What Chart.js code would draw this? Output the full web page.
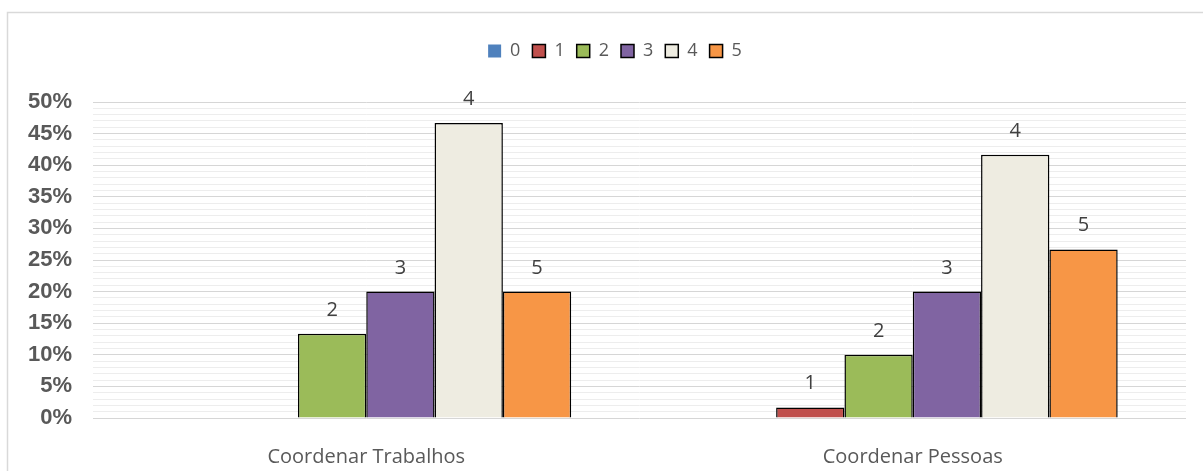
<!DOCTYPE html>
<html lang="pt">
<head>
    <meta charset="UTF-8">
    <script src="https://cdn.jsdelivr.net/npm/chart.js@4.4.1/dist/chart.umd.min.js"></script>
    <title>Coordenar Trabalhos / Pessoas</title>
    <style>
        html, body { margin: 0; padding: 0; background: #fff; }
        #chart-container { width: 1203px; height: 471px; }
    </style>
</head>
<body>
    <div id="chart-container">
        <canvas id="grafico"></canvas>
    </div>

    <script>
        // categorias e séries (percentual de respostas)
        const categorias = ['Coordenar Trabalhos', 'Coordenar Pessoas'];
        const nomesSeries = ['0', '1', '2', '3', '4', '5'];
        const nota0 = [0, 0];
        const nota1 = [0, 1.67];
        const nota2 = [13.33, 10];
        const nota3 = [20, 20];
        const nota4 = [46.67, 41.67];
        const nota5 = [20, 26.67];
        const ticksY = [0, 5, 10, 15, 20, 25, 30, 35, 40, 45, 50];

        const cores = ['#4F81BD', '#C0504D', '#9BBB59', '#8064A2', '#EEECE1', '#F79646'];
        const valores = [nota0, nota1, nota2, nota3, nota4, nota5];

        const datasets = nomesSeries.map((nome, i) => ({
            label: nome,
            data: valores[i],
            backgroundColor: cores[i],
            borderColor: '#000000',
            borderWidth: i === 0 ? 0 : 1.5,
            categoryPercentage: 0.75,
            barPercentage: 1
        }));

        // espaço entre a legenda e a área do gráfico, legenda um pouco à direita
        const ajusteLegenda = {
            id: 'ajusteLegenda',
            beforeInit(chart) {
                const fitOriginal = chart.legend.fit;
                chart.legend.fit = function () {
                    fitOriginal.bind(chart.legend)();
                    this.height += 32;
                };
            },
            afterLayout(chart) {
                chart.legend.left += 17;
                chart.legend.right += 17;
            }
        };

        // moldura cinza em volta do gráfico
        const moldura = {
            id: 'moldura',
            beforeDraw(chart) {
                const ctx = chart.ctx;
                ctx.save();
                ctx.strokeStyle = '#d9d9d9';
                ctx.lineWidth = 1.5;
                ctx.strokeRect(7.5, 12.5, 1210, 480);
                ctx.restore();
            }
        };

        // rótulos com o nome da série acima de cada barra
        const rotulos = {
            id: 'rotulos',
            afterDatasetsDraw(chart) {
                const ctx = chart.ctx;
                ctx.save();
                ctx.font = '20px "Open Sans"';
                ctx.fillStyle = '#404040';
                ctx.textAlign = 'center';
                ctx.textBaseline = 'alphabetic';
                chart.data.datasets.forEach((ds, i) => {
                    const meta = chart.getDatasetMeta(i);
                    meta.data.forEach((bar, j) => {
                        if (!ds.data[j]) return;
                        ctx.fillText(ds.label, bar.x, bar.y - 18);
                    });
                });
                ctx.restore();
            }
        };

        new Chart(document.getElementById('grafico'), {
            type: 'bar',
            data: {
                labels: categorias,
                datasets: datasets
            },
            options: {
                responsive: true,
                maintainAspectRatio: false,
                animation: false,
                layout: {
                    padding: { top: 30, left: 10, right: 17, bottom: 0 }
                },
                scales: {
                    x: {
                        grid: { display: false },
                        border: { display: false },
                        ticks: {
                            color: '#595959',
                            font: { family: '"Open Sans"', size: 20 },
                            padding: 19
                        },
                        afterFit(scale) { scale.height = 53; }
                    },
                    y: {
                        min: 0,
                        max: 50,
                        border: { display: false },
                        grid: {
                            drawTicks: false,
                            color: ctx => ticksY.includes(ctx.tick.value) ? '#d6d6d6' : '#ededed',
                            lineWidth: 1
                        },
                        ticks: {
                            stepSize: 1,
                            autoSkip: false,
                            padding: 21,
                            color: '#595959',
                            font: { family: '"Liberation Sans"', size: 22, weight: 'bold' },
                            callback: value => ticksY.includes(value) ? value + '%' : ''
                        },
                        afterFit(scale) { scale.width = 83; }
                    }
                },
                plugins: {
                    legend: {
                        position: 'top',
                        labels: {
                            boxWidth: 13,
                            boxHeight: 13,
                            padding: 12,
                            color: '#595959',
                            font: { family: '"Open Sans"', size: 18 }
                        }
                    },
                    tooltip: { enabled: false }
                }
            },
            plugins: [ajusteLegenda, moldura, rotulos]
        });
    </script>
</body>
</html>
